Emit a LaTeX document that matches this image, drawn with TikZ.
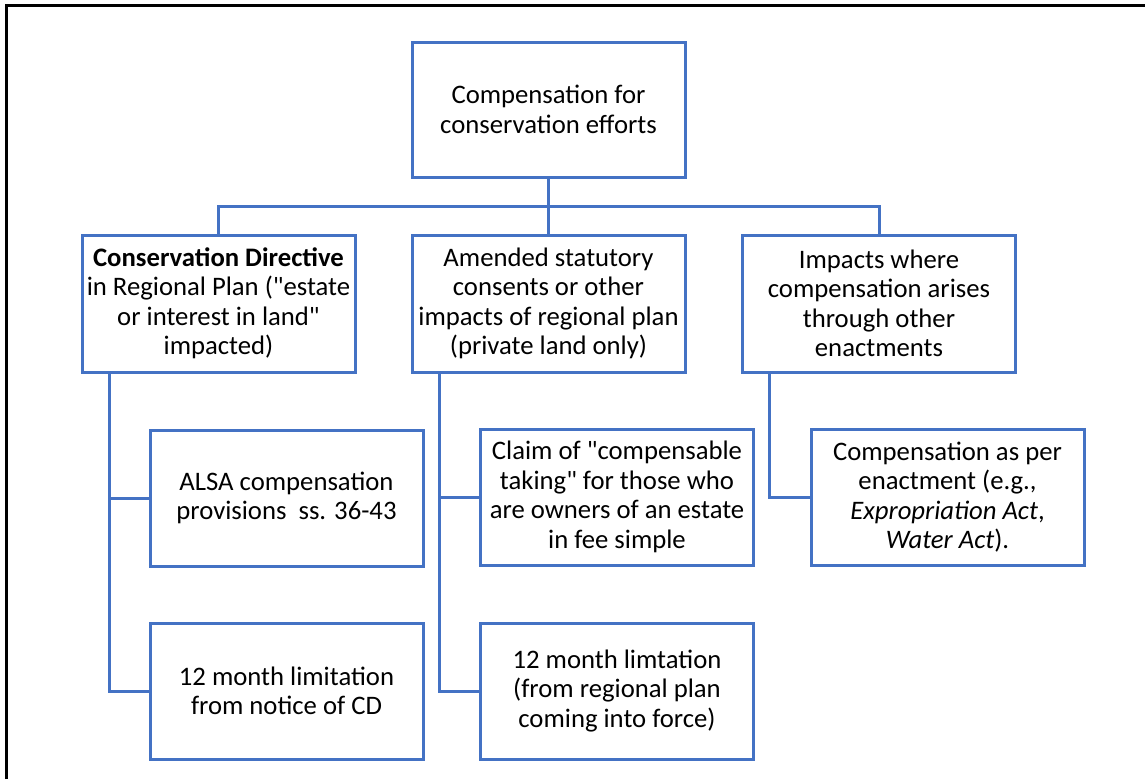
\documentclass[tikz,border=0pt]{standalone}
\usepackage{fontspec}
\setmainfont{Carlito}
\definecolor{boxblue}{HTML}{4472C4}
\newcommand\sdq{\XeTeXglyph\XeTeXcharglyph"22\relax}
\begin{document}
\begin{tikzpicture}[x=1pt,y=-1pt,
  box/.style={draw=boxblue,line width=3pt,minimum width=273pt,minimum height=136pt,
    align=center,inner sep=0pt,font=\fontsize{26.7}{29.5}\selectfont},
  link/.style={draw=boxblue,line width=3pt}]
\useasboundingbox (0,0) rectangle (1145,779);
\draw[line width=3pt,black] (6.5,779) -- (6.5,5.5) -- (1145,5.5);
% nodes
\node[box,minimum height=135pt] (top) at (548.5,109.5) {Compensation for\\conservation efforts};
\node[box,minimum height=137pt] (la) at (218.5,303.5) {\textbf{Conservation Directive}\\in Regional Plan (\sdq estate\\or interest in land\sdq\\impacted)};
\node[box,minimum height=137pt] (lb) at (548.5,303.5) {Amended statutory\\consents or other\\impacts of regional plan\\(private land only)};
\node[box,minimum height=137pt] (lc) at (879,303.5) {Impacts where\\compensation arises\\through other\\enactments};
\node[box] (a1) at (286.5,498) {ALSA compensation\\provisions\ \ ss. 36-43};
\node[box] (a2) at (286.5,691) {12 month limitation\\from notice of CD};
\node[box] (b1) at (617,497) {Claim of \sdq compensable\\taking\sdq\ for those who\\are owners of an estate\\in fee simple};
\node[box] (b2) at (617,691) {12 month limtation\\(from regional plan\\coming into force)};
\node[box] (c1) at (947.5,497) {Compensation as per\\enactment (e.g.,\\\textit{Expropriation Act},\\\textit{Water Act}).};
% connectors
\coordinate (bus) at (548.5,206);
\draw[link] (top.south) -- (bus);
\draw[link] (la.north) |- (bus) -| (lc.north);
\draw[link] (bus) -- (lb.north);
\coordinate (sa) at (109,372);
\coordinate (sb) at (439,372);
\coordinate (sc) at (769,372);
\draw[link] (sa) |- (a2.west);
\draw[link] (sa |- a1.west) -- (a1.west);
\draw[link] (sb) |- (b2.west);
\draw[link] (sb |- b1.west) -- (b1.west);
\draw[link] (sc) |- (c1.west);
\end{tikzpicture}
\end{document}
